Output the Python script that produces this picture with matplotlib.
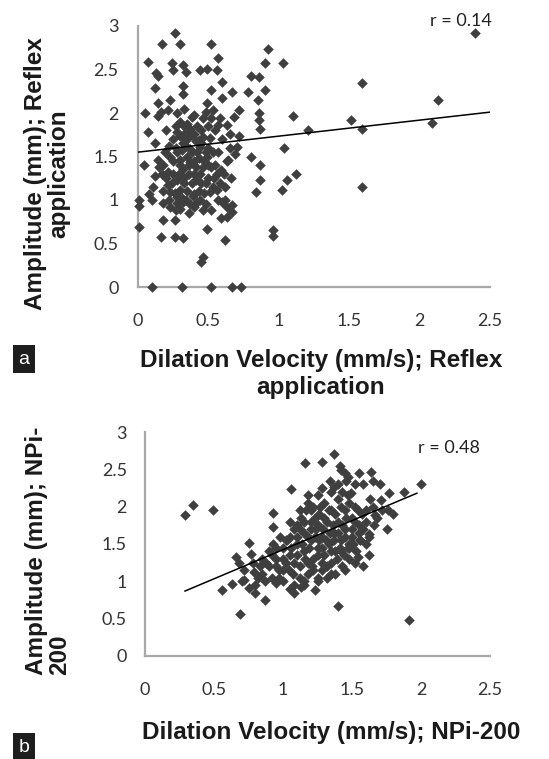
import matplotlib
matplotlib.use("Agg")
import matplotlib.pyplot as plt

# ---------------- data (panel a: Reflex application) ----------------
a_vel = [0.26, 0.17, 0.30, 0.52, 0.92, 0.07, 0.57, 0.24, 0.25, 0.32, 0.34, 0.44, 0.49, 0.56,
         0.13, 0.14, 0.90, 1.03, 0.80, 0.86, 0.60, 1.59, 0.12, 0.32, 0.32, 0.52, 0.67, 0.78,
         0.90, 0.60, 0.85, 2.13, 0.14, 0.23, 0.49, 0.05, 0.16, 0.21, 0.28, 0.33, 0.40, 0.48,
         0.53, 0.72, 0.86, 0.14, 1.10, 0.46, 0.52, 0.58, 0.68, 1.51, 0.86, 0.87, 0.30, 0.35,
         0.37, 2.09, 1.59, 1.21, 0.07, 0.57, 0.63, 0.28, 0.30, 0.33, 0.40, 0.43, 0.51, 0.72,
         0.65, 0.12, 0.70, 0.69, 1.04, 0.32, 0.37, 0.44, 0.28, 0.23, 0.48, 0.49, 0.80, 0.14,
         0.15, 0.04, 0.64, 0.87, 0.30, 0.37, 0.32, 0.18, 0.21, 0.46, 0.52, 0.56, 0.61, 1.12,
         0.12, 0.36, 0.41, 0.28, 0.33, 0.87, 1.06, 0.21, 0.23, 1.59, 0.11, 0.08, 0.48, 0.51,
         0.56, 0.84, 1.02, 0.30, 0.28, 0.40, 0.44, 0.01, 0.01, 0.10, 0.60, 0.63, 0.67, 0.18,
         0.23, 0.28, 0.32, 0.40, 0.46, 0.52, 0.67, 0.59, 0.63, 0.18, 0.26, 0.01, 0.49, 0.96,
         0.96, 0.16, 0.26, 0.32, 0.62, 0.46, 0.45, 0.10, 0.31, 0.52, 0.67, 0.73, 2.39,
         0.35, 0.38, 0.42, 0.27, 0.30, 0.35, 0.40, 0.45, 0.25, 0.22, 0.30, 0.35, 0.40, 0.45,
         0.50, 0.55, 0.58, 0.62, 0.33, 0.38, 0.42, 0.45, 0.55, 0.60, 0.65, 0.20, 0.18, 0.25,
         0.50, 0.53, 0.37, 0.43,
         0.20, 0.22, 0.24, 0.26, 0.27, 0.29, 0.31, 0.31, 0.33, 0.34, 0.36, 0.36, 0.38, 0.38,
         0.39, 0.41, 0.41, 0.43, 0.44, 0.46, 0.47, 0.47, 0.50, 0.50, 0.53, 0.54, 0.57, 0.57,
         0.59, 0.62, 0.63, 0.66, 0.17, 0.19, 0.25, 0.34, 0.42, 0.48, 0.27, 0.36]
a_amp = [2.92, 2.79, 2.79, 2.79, 2.73, 2.59, 2.63, 2.57, 2.49, 2.55, 2.47, 2.49, 2.51, 2.49,
         2.46, 2.42, 2.57, 2.57, 2.42, 2.41, 2.36, 2.35, 2.29, 2.31, 2.22, 2.26, 2.24, 2.24,
         2.26, 2.17, 2.15, 2.15, 2.11, 2.15, 2.11, 2.00, 2.01, 2.03, 2.00, 2.05, 1.98, 2.01,
         2.03, 2.03, 2.00, 1.96, 1.96, 1.94, 1.94, 1.94, 1.95, 1.92, 1.92, 1.82, 1.90, 1.87,
         1.82, 1.88, 1.82, 1.80, 1.78, 1.86, 1.86, 1.78, 1.73, 1.76, 1.76, 1.69, 1.71, 1.73,
         1.76, 1.65, 1.61, 1.53, 1.60, 1.65, 1.59, 1.61, 1.55, 1.50, 1.55, 1.50, 1.50, 1.46,
         1.38, 1.40, 1.46, 1.40, 1.46, 1.44, 1.36, 1.40, 1.32, 1.38, 1.38, 1.30, 1.30, 1.30,
         1.28, 1.30, 1.23, 1.23, 1.19, 1.23, 1.23, 1.17, 1.09, 1.15, 1.15, 1.07, 1.19, 1.09,
         1.11, 1.09, 1.11, 1.11, 1.04, 1.07, 1.00, 1.00, 0.93, 1.00, 0.98, 0.92, 0.94, 0.96,
         0.92, 0.96, 0.98, 0.92, 0.88, 0.88, 0.86, 0.79, 0.81, 0.77, 0.77, 0.69, 0.67, 0.66,
         0.59, 0.58, 0.58, 0.56, 0.54, 0.34, 0.29, 0.00, 0.00, 0.00, 0.00, 0.00, 2.92,
         1.70, 1.75, 1.55, 1.60, 1.40, 1.10, 1.30, 1.20, 1.30, 1.00, 0.90, 1.50, 1.45, 1.65,
         1.60, 1.40, 1.20, 1.00, 1.85, 1.95, 1.85, 1.80, 1.80, 1.70, 1.60, 1.25, 1.10, 1.45,
         1.25, 1.15, 0.95, 1.10,
         1.80, 1.62, 1.20, 1.08, 1.85, 1.30, 1.58, 1.02, 1.25, 1.62, 1.40, 1.78, 1.20, 1.55,
         1.05, 1.68, 1.38, 1.48, 1.30, 1.72, 1.08, 1.45, 1.85, 1.40, 1.55, 1.25, 1.55, 1.00,
         1.35, 1.15, 1.45, 1.25, 1.30, 1.55, 1.70, 1.00, 0.98, 0.95, 0.88, 0.85]
a_trend_x = [0.0, 2.5]
a_trend_y = [1.55, 2.01]
a_r_text = "r = 0.14"

# ---------------- data (panel b: NPi-200) ----------------
b_vel = [0.29, 0.35, 0.49, 0.56, 0.66, 0.68, 0.75, 0.77, 0.69, 0.72, 0.75, 0.80, 0.87, 0.79,
         0.63, 0.93, 0.93, 1.06, 1.16, 1.28, 1.37, 1.41, 1.42, 1.64, 1.65, 2.00, 1.88, 1.77,
         1.71, 1.76, 1.67, 1.62, 1.56, 1.54, 1.48, 1.91, 1.40, 1.08, 1.13, 1.23, 1.34, 1.37,
         1.47, 1.49,
         0.85, 0.88, 0.90, 0.92, 0.95, 0.97, 1.00, 1.00, 1.02, 1.05, 1.05, 1.07, 1.08, 1.10,
         1.10, 1.12, 1.13, 1.15, 1.15, 1.17, 1.18, 1.20, 1.20, 1.22, 1.22, 1.24, 1.25, 1.26,
         1.28, 1.28, 1.30, 1.30, 1.32, 1.33, 1.35, 1.35, 1.37, 1.38, 1.40, 1.40, 1.42, 1.43,
         1.45, 1.45, 1.47, 1.48, 1.50, 1.50, 1.52, 1.53, 1.55, 1.57, 1.58, 1.60, 1.62, 1.05,
         0.98, 0.93, 0.87, 0.83, 0.80, 1.15, 1.25, 1.32, 1.38, 1.45, 1.52, 1.35, 1.25, 1.18,
         1.12, 1.08, 1.03, 0.95, 1.00, 1.18, 1.22, 1.28, 1.42, 1.48, 1.55, 1.60, 1.65, 1.68,
         1.70, 1.72, 1.75, 1.80, 1.52, 1.45, 1.55,
         0.90, 0.92, 0.95, 0.97, 1.00, 1.02, 1.04, 1.06, 1.08, 1.10, 1.10, 1.12, 1.12, 1.14,
         1.15, 1.16, 1.18, 1.19, 1.20, 1.20, 1.21, 1.23, 1.23, 1.25, 1.25, 1.26, 1.27, 1.28,
         1.29, 1.30, 1.31, 1.32, 1.33, 1.34, 1.35, 1.36, 1.37, 1.38, 1.39, 1.40, 1.41, 1.42,
         1.43, 1.44, 1.45, 1.46, 1.47, 1.48, 1.50, 1.51, 1.52, 1.54, 1.56, 1.58, 1.60, 1.62,
         1.63, 1.66, 1.18, 1.28, 1.40, 1.43, 1.46, 1.58, 1.35, 1.25, 1.15, 1.05, 0.95, 0.85,
         0.82, 0.78, 0.72, 0.70]
b_amp = [1.89, 2.02, 1.96, 0.89, 1.33, 1.24, 1.52, 1.37, 0.56, 1.02, 0.91, 0.84, 0.75, 1.13,
         0.97, 1.91, 1.73, 2.23, 2.59, 2.60, 2.70, 2.55, 2.49, 2.47, 2.35, 2.31, 2.20, 2.18,
         2.09, 1.95, 1.89, 1.64, 1.55, 1.33, 1.44, 0.48, 0.67, 0.84, 0.93, 0.88, 2.35, 2.26,
         2.40, 2.18,
         1.10, 1.25, 1.40, 1.05, 1.30, 1.15, 1.45, 1.00, 1.25, 1.60, 1.35, 1.10, 0.95, 1.50,
         1.75, 1.20, 1.85, 1.40, 1.65, 1.95, 1.10, 1.55, 1.80, 2.00, 1.30, 1.70, 1.45, 1.90,
         1.15, 1.60, 2.05, 1.35, 1.80, 1.50, 1.95, 1.25, 1.65, 1.40, 2.10, 1.80, 1.55, 1.20,
         1.95, 1.70, 2.15, 1.30, 1.85, 1.60, 2.00, 1.40, 1.75, 1.90, 1.20, 1.50, 1.35, 1.80,
         1.60, 1.50, 1.00, 1.20, 0.95, 1.00, 1.00, 1.05, 1.10, 1.15, 1.25, 2.20, 2.15, 2.05,
         1.95, 1.70, 1.55, 1.20, 1.15, 1.25, 1.15, 1.25, 1.40, 1.50, 1.65, 1.80, 2.00, 1.85,
         2.30, 1.95, 1.70, 1.90, 2.30, 2.45, 2.45,
         1.20, 1.35, 1.45, 1.05, 1.30, 1.55, 1.15, 1.45, 1.25, 1.35, 1.60, 1.05, 1.70, 1.50,
         1.80, 1.30, 1.60, 1.45, 1.70, 1.95, 1.20, 1.60, 1.85, 1.35, 1.75, 1.55, 2.00, 1.45,
         1.70, 1.85, 1.55, 1.20, 1.95, 1.65, 1.40, 1.75, 1.55, 1.90, 1.30, 1.65, 1.45, 2.00,
         1.75, 1.35, 1.60, 1.85, 1.45, 2.05, 1.70, 1.50, 1.80, 1.95, 1.55, 1.70, 1.95, 1.60,
         2.10, 1.75, 2.15, 2.25, 2.30, 2.20, 2.35, 2.30, 1.10, 1.05, 0.95, 0.90, 0.98, 1.30,
         1.05, 1.25, 1.15, 1.00]
b_trend_x = [0.29, 1.97]
b_trend_y = [0.87, 2.18]
b_r_text = "r = 0.48"

x_ticks = [0, 0.5, 1, 1.5, 2, 2.5]
x_tick_labels = ["0", "0.5", "1", "1.5", "2", "2.5"]
y_ticks = [0, 0.5, 1, 1.5, 2, 2.5, 3]
y_tick_labels = ["0", "0.5", "1", "1.5", "2", "2.5", "3"]

a_xlabel = "Dilation Velocity (mm/s); Reflex\napplication"
a_ylabel = "Amplitude (mm); Reflex\napplication"
b_xlabel = "Dilation Velocity (mm/s); NPi-200"
b_ylabel = "Amplitude (mm); NPi-\n200"

# ---------------- style ----------------
label_family = "Liberation Sans"
label_size = 17.5
tick_family = "Lato"

W, H = 549, 759
fig = plt.figure(figsize=(W / 100, H / 100), dpi=100)
fig.patch.set_facecolor("white")

MARK = "#3f3f3f"
SPINE = "#a8a8a8"
TICKC = "#333333"


def px_axes(left, right, bottom, top):
    return [left / W, 1 - bottom / H, (right - left) / W, (bottom - top) / H]


def style(ax, xpad, ypad):
    ax.set_xlim(0, 2.5)
    ax.set_ylim(0, 3)
    for s in ["top", "right"]:
        ax.spines[s].set_visible(False)
    for s in ["left", "bottom"]:
        ax.spines[s].set_color(SPINE)
        ax.spines[s].set_linewidth(1.6)
    ax.set_xticks(x_ticks)
    ax.set_xticklabels(x_tick_labels)
    ax.set_yticks(y_ticks)
    ax.set_yticklabels(y_tick_labels)
    ax.tick_params(axis="x", length=0, pad=xpad, labelsize=13, labelcolor=TICKC)
    ax.tick_params(axis="y", length=0, pad=ypad, labelsize=13, labelcolor=TICKC)
    for lab in ax.get_xticklabels() + ax.get_yticklabels():
        lab.set_family(tick_family)
    ax.patch.set_alpha(0)


# panel a
ax1 = fig.add_axes(px_axes(138, 490, 287, 26))
style(ax1, 19, 14)
ax1.scatter(a_vel, a_amp, marker="D", s=29, color=MARK, linewidths=0, zorder=3, clip_on=False)
ax1.plot(a_trend_x, a_trend_y, color="black", lw=1.1, zorder=4)
ax1.text(1.005, 1.02, a_r_text, transform=ax1.transAxes, ha="right", va="center",
         fontsize=13, family=tick_family, color="#222222")

# panel b
ax2 = fig.add_axes(px_axes(145, 490, 656, 432))
style(ax2, 19, 13)
ax2.scatter(b_vel, b_amp, marker="D", s=29, color=MARK, linewidths=0, zorder=3, clip_on=False)
ax2.plot(b_trend_x, b_trend_y, color="black", lw=1.1, zorder=4)
ax2.text(0.97, 0.93, b_r_text, transform=ax2.transAxes, ha="right", va="center",
         fontsize=13, family=tick_family, color="#222222")

# axis titles
lab_kw = dict(family=label_family, fontweight="bold", fontsize=label_size, color="#1a1a1a")
fig.text(321 / W, 1 - 349 / H, a_xlabel, ha="center", va="top", ma="center",
         linespacing=1.2, **lab_kw)
fig.text(47 / W, 1 - 174 / H, a_ylabel, ha="center", va="center", ma="center",
         rotation=90, linespacing=1.0, **lab_kw)
fig.text(331 / W, 1 - 733 / H, b_xlabel, ha="center", va="center", **lab_kw)
fig.text(48 / W, 1 - 551 / H, b_ylabel, ha="center", va="center", ma="left",
         rotation=90, linespacing=1.0, **lab_kw)

# panel letters
box = dict(facecolor="#1e1e1e", edgecolor="none", boxstyle="square,pad=0.3")
fig.text(24 / W, 1 - 359 / H, "a", ha="center", va="center", color="white", fontsize=14,
         family="Liberation Sans", bbox=box)
fig.text(24 / W, 1 - 747 / H, "b", ha="center", va="center", color="white", fontsize=14,
         family="Liberation Sans", bbox=box)

fig.savefig("out.png", dpi=100, facecolor="white")
